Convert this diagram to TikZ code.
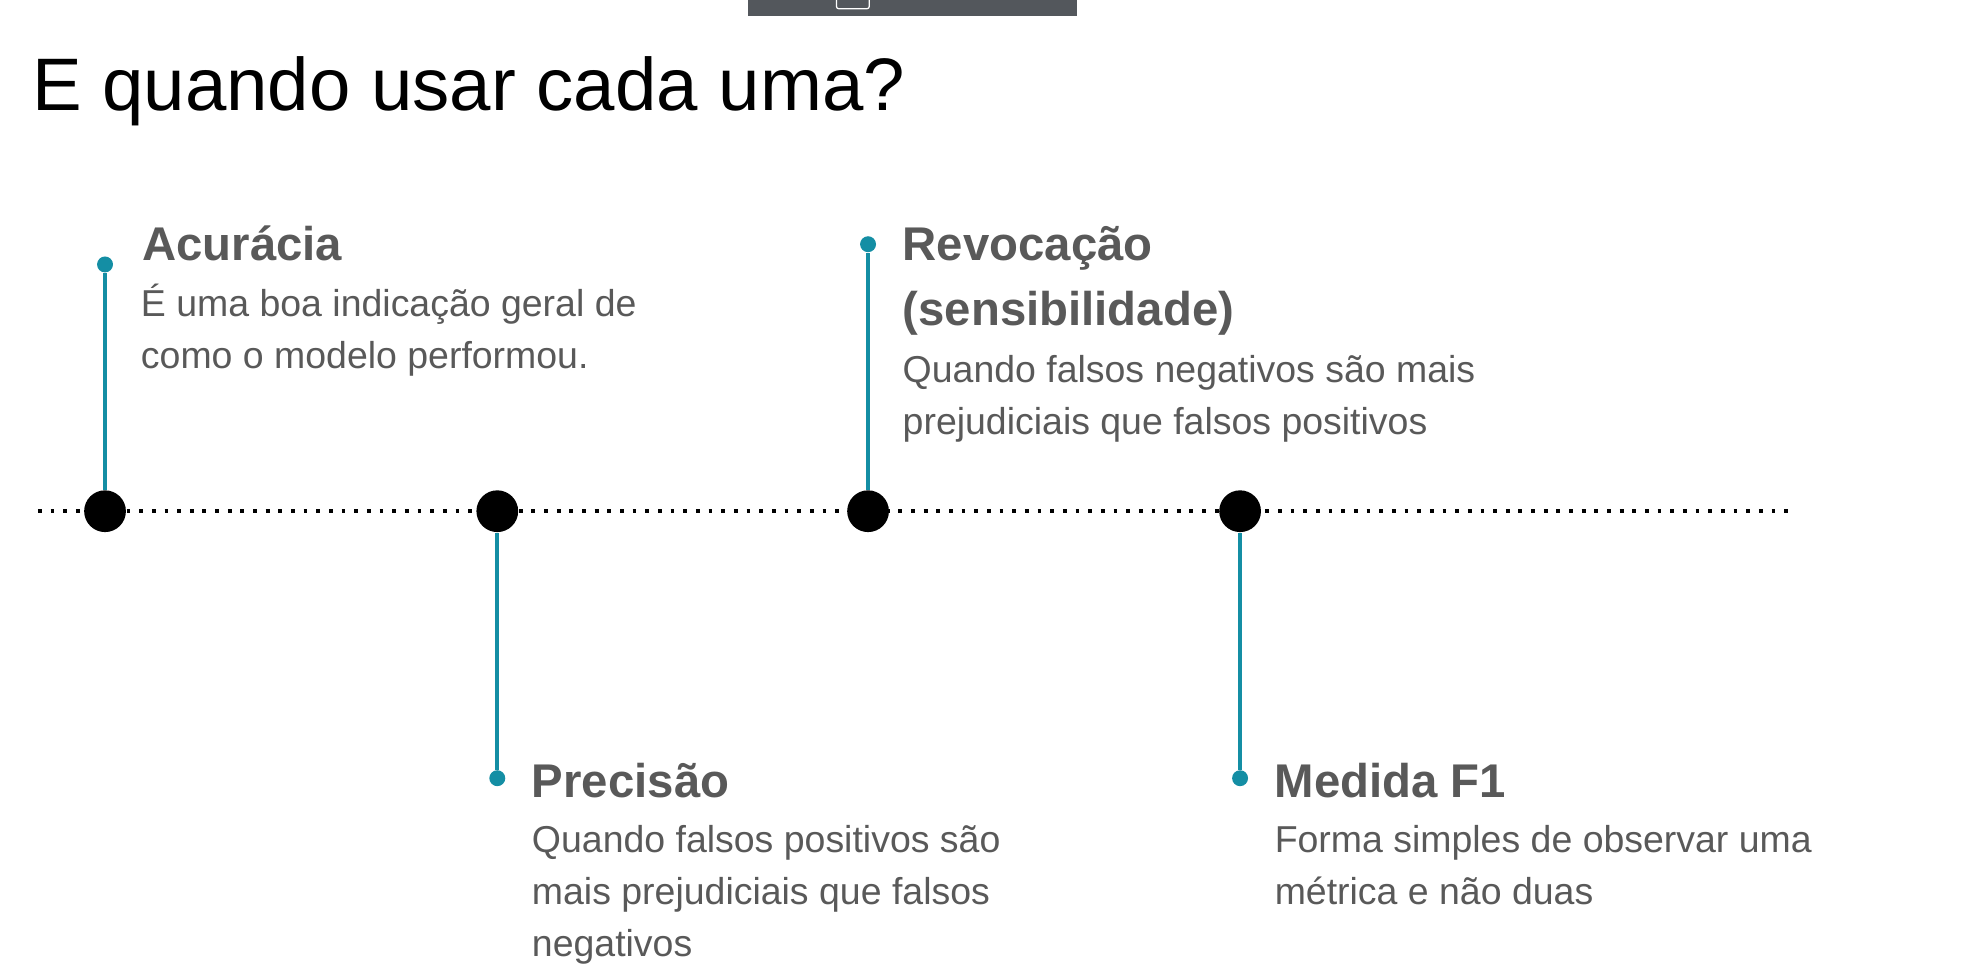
\documentclass[tikz,border=0pt]{standalone}
\usepackage{fontspec}
\setmainfont{Liberation Sans}

\definecolor{stemteal}{RGB}{20,142,164}
\definecolor{textgray}{RGB}{89,89,89}
\definecolor{bargray}{RGB}{83,87,92}

\tikzset{
    heading/.style={anchor=base west, inner sep=0pt, text=textgray, font=\fontsize{18.7}{22}\selectfont\bfseries},
    bodyline/.style={anchor=base west, inner sep=0pt, text=textgray, font=\fontsize{14.8}{18}\selectfont},
    bigdot/.style={circle, fill=black, inner sep=0pt, minimum size=16.5pt},
    tipdot/.style={circle, fill=stemteal, inner sep=0pt, minimum size=6.3pt},
    stem/.style={stemteal, line width=1.6pt},
}

\begin{document}
\begin{tikzpicture}[x=0.5pt,y=-0.5pt]
    \useasboundingbox (0,0) rectangle (1560,763);

    % Top bar
    \fill[bargray] (591,0) rectangle (851,13);
    \draw[white, line width=0.5pt, rounded corners=1pt] (661,-6) rectangle (687,7);

    % Title
    \node[anchor=base west, inner sep=0pt, font=\fontsize{29.4}{35}\selectfont] (title) at (25,87) {E quando usar cada uma?};

    % Timeline
    \coordinate (lstart) at (30,404);
    \coordinate (lend) at (1416,404);
    \draw[black, line width=1.5pt, dash pattern=on 1.5pt off 3.5pt] (lstart) -- (lend);

    \node[bigdot] (acc) at (83,404) {};
    \node[bigdot] (prec) at (393,404) {};
    \node[bigdot] (rev) at (686,404) {};
    \node[bigdot] (fone) at (980,404) {};

    \node[tipdot] (acctip) at (83,209) {};
    \node[tipdot] (revtip) at (686,193) {};
    \node[tipdot] (prectip) at (393,615) {};
    \node[tipdot] (fonetip) at (980,615) {};

    % Draw stems
    \foreach \from/\to in {acc/acctip, rev/revtip, prec/prectip, fone/fonetip} {
        \draw[stem] (\from) -- (\to);
    }

    % Acuracia
    \node[heading] (acchead) at (112,206) {Acurácia};
    \node[bodyline] (acc1) at (111,250) {É uma boa indicação geral de};
    \node[bodyline] (acc2) at (111,291) {como o modelo performou.};

    % Revocacao
    \node[heading] (revhead) at (713,206) {Revocação};
    \node[heading] (revhead2) at (713,257) {(sensibilidade)};
    \node[bodyline] (rev1) at (713,302) {Quando falsos negativos são mais};
    \node[bodyline] (rev2) at (713,343) {prejudiciais que falsos positivos};

    % Precisao
    \node[heading] (prechead) at (420,630) {Precisão};
    \node[bodyline] (prec1) at (420,674) {Quando falsos positivos são};
    \node[bodyline] (prec2) at (420,715) {mais prejudiciais que falsos};
    \node[bodyline] (prec3) at (420,756) {negativos};

    % Medida F1
    \node[heading] (fonehead) at (1007,630) {Medida F1};
    \node[bodyline] (fone1) at (1007,674) {Forma simples de observar uma};
    \node[bodyline] (fone2) at (1007,715) {métrica e não duas};

\end{tikzpicture}
\end{document}
